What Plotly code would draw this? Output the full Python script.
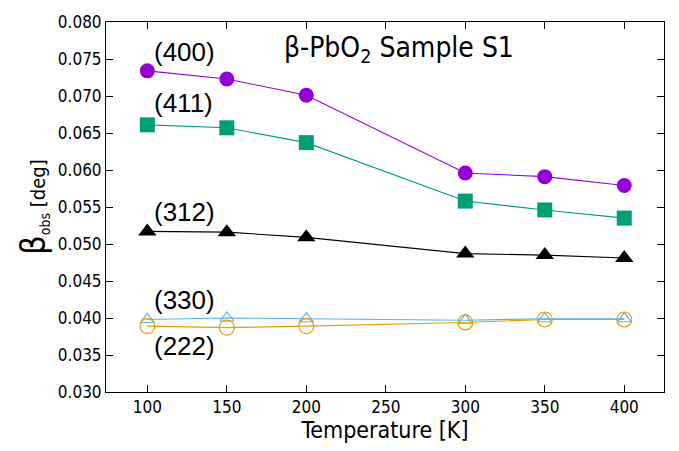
import plotly.graph_objects as go

temperature = [100, 150, 200, 300, 350, 400]
beta_400 = [0.0734, 0.0723, 0.0701, 0.0596, 0.0591, 0.0579]
beta_411 = [0.0661, 0.0657, 0.0637, 0.0558, 0.0546, 0.0535]
beta_312 = [0.0517, 0.0516, 0.0509, 0.0487, 0.0485, 0.0481]
beta_330 = [0.0398, 0.0400, 0.0399, 0.0397, 0.0399, 0.0399]
beta_222 = [0.0389, 0.0387, 0.0389, 0.0394, 0.0398, 0.0398]

x_ticks = [100, 150, 200, 250, 300, 350, 400]
y_ticks = [0.030, 0.035, 0.040, 0.045, 0.050, 0.055, 0.060, 0.065, 0.070, 0.075, 0.080]

base_family = "DejaVu Sans Condensed, DejaVu Sans"
tick_font = dict(family=base_family, size=17, color="black")
label_font = dict(family="Liberation Sans", size=26, color="black")

fig = go.Figure()

series = [
    (beta_400, "#9400D3", dict(symbol="circle", size=15)),
    (beta_411, "#009E73", dict(symbol="square", size=15)),
    (beta_312, "black", dict(symbol="triangle-up", size=16)),
    (beta_330, "#56B4E9", dict(symbol="triangle-up-open", size=12, line=dict(width=1.2))),
    (beta_222, "#E69F00", dict(symbol="circle-open", size=15, line=dict(width=1.2))),
]
for values, color, marker in series:
    fig.add_trace(go.Scatter(
        x=temperature, y=values, mode="lines+markers",
        line=dict(color=color, width=1.1),
        marker=dict(color=color, **marker),
        showlegend=False,
    ))

# reflection labels
labels = [("(400)", 0.0760), ("(411)", 0.0690), ("(312)", 0.0543), ("(330)", 0.0424), ("(222)", 0.0362)]
for text, y in labels:
    fig.add_annotation(x=103, y=y, xref="x", yref="y", text=text, showarrow=False,
                       xanchor="left", yanchor="middle", font=label_font)

fig.add_annotation(x=185, y=0.0763, xref="x", yref="y",
                   text="β-PbO<sub>2</sub> Sample S1", showarrow=False,
                   xanchor="left", yanchor="middle",
                   font=dict(family=base_family, size=28, color="black"))

fig.update_layout(
    width=679, height=451,
    margin=dict(l=106, r=15, t=14, b=59),
    paper_bgcolor="white", plot_bgcolor="white",
    xaxis=dict(
        range=[74, 425], tickvals=x_ticks, ticks="inside", ticklen=7,
        tickcolor="black", mirror="ticks", showline=True, linecolor="black",
        linewidth=1, showgrid=False, zeroline=False, tickfont=tick_font,
        title=dict(text="Temperature [K]", font=dict(family=base_family, size=23, color="black"), standoff=0),
    ),
    yaxis=dict(
        range=[0.030, 0.080], tickvals=y_ticks, tickformat=".3f", ticks="inside",
        ticklen=7, tickcolor="black", mirror="ticks", showline=True,
        linecolor="black", linewidth=1, showgrid=False, zeroline=False,
        tickfont=tick_font,
        title=dict(text='<span style="font-size:34px">β</span><sub>obs</sub> [deg]',
                   font=dict(family=base_family, size=20, color="black"), standoff=6),
    ),
)

fig.write_html("out.html")
